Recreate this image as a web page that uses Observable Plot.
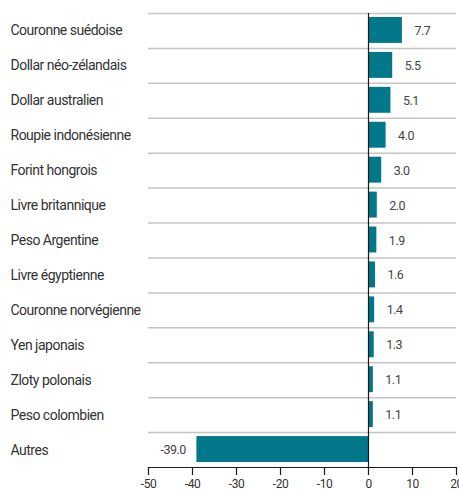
<!DOCTYPE html>
<html>
<head>
<meta charset="utf-8">
<script src="https://cdn.jsdelivr.net/npm/d3@7"></script>
<script src="https://cdn.jsdelivr.net/npm/@observablehq/plot@0.6"></script>
<style>
  html, body { margin: 0; padding: 0; background: #fff; }
  #chart svg { display: block; }
  #chart svg text { letter-spacing: -0.5px; }
</style>
</head>
<body>
<div id="chart"></div>
<script>
const categories = [
  "Couronne suédoise", "Dollar néo-zélandais", "Dollar australien", "Roupie indonésienne",
  "Forint hongrois", "Livre britannique", "Peso Argentine", "Livre égyptienne",
  "Couronne norvégienne", "Yen japonais", "Zloty polonais", "Peso colombien", "Autres"
];
const values = [7.7, 5.5, 5.1, 4.0, 3.0, 2.0, 1.9, 1.6, 1.4, 1.3, 1.1, 1.1, -39.0];
const xTicks = [-50, -40, -30, -20, -10, 0, 10, 20];

const data = categories.map((name, i) => ({name, value: values[i]}));

const W = 459, H = 491, mt = 13, mb = 24;
const step = (H - mt - mb) / categories.length;
const font = "Roboto, 'Liberation Sans', sans-serif";

const chart = Plot.plot({
  width: W,
  height: H,
  marginLeft: 148,
  marginRight: 3,
  marginTop: mt,
  marginBottom: mb,
  style: {fontFamily: font, fontSize: "12px", color: "#333", background: "#fff", overflow: "visible"},
  x: {domain: [-50, 20], axis: null},
  y: {domain: categories, padding: 0, round: false, axis: null},
  marks: [
    Plot.ruleY(categories, {y: d => d, dy: -step / 2, stroke: "#c4c4c4", strokeWidth: 1.5, x1: -50, x2: 20}),
    Plot.barX(data, {y: "name", x: "value", fill: "#00788a", insetTop: 4, insetBottom: 5}),
    Plot.ruleX([0], {stroke: "#1a1a1a", strokeWidth: 1.2}),
    Plot.text(data, {
      y: "name", frameAnchor: "left", dx: -138, text: "name", textAnchor: "start",
      fontSize: 14, fill: "#333"
    }),
    Plot.text(data.filter(d => d.value >= 0), {
      y: "name", x: "value", text: d => d.value.toFixed(1),
      textAnchor: "start", dx: 12, fontSize: 12.5, fill: "#444"
    }),
    Plot.text(data.filter(d => d.value < 0), {
      y: "name", x: "value", text: d => d.value.toFixed(1),
      textAnchor: "end", dx: -11, fontSize: 12.5, fill: "#444"
    }),
    Plot.frame({anchor: "bottom", stroke: "#1a1a1a", strokeWidth: 1.2}),
    Plot.axisX({ticks: xTicks, tickSize: 8, tickPadding: 4, tickFormat: d => String(d), fontSize: 12, stroke: "#1a1a1a", strokeWidth: 1.2, label: null})
  ]
});

document.getElementById("chart").append(chart);
</script>
</body>
</html>
